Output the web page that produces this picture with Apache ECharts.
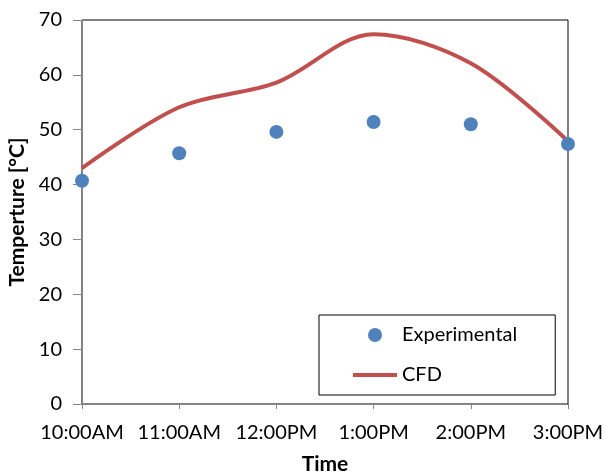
<!DOCTYPE html>
<html>
<head>
<meta charset="utf-8">
<script src="https://cdn.jsdelivr.net/npm/echarts@6/dist/echarts.min.js"></script>
<style>
  html, body { margin: 0; padding: 0; background: #fff; }
  #main { width: 606px; height: 472px; }
</style>
</head>
<body>
<div id="main"></div>
<script>
// 数据
var times = ['10:00AM', '11:00AM', '12:00PM', '1:00PM', '2:00PM', '3:00PM'];
var experimental = [40.7, 45.7, 49.6, 51.4, 51.0, 47.4];
var cfd = [43.0, 54.1, 58.6, 67.4, 62.1, 47.9];

var chart = echarts.init(document.getElementById('main'));
var font = 'Lato';
var option = {
    animation: false,
    backgroundColor: '#fff',
    grid: {
        left: 82,
        right: 38,
        top: 20,
        bottom: 68,
        outerBoundsMode: 'none',
        containLabel: false,
        show: true,
        borderColor: '#000',
        borderWidth: 1
    },
    legend: {
        orient: 'vertical',
        left: 319,
        top: 315,
        padding: [10, 38, 10, 34],
        itemGap: 20,
        itemWidth: 44,
        itemHeight: 14,
        borderColor: '#000',
        borderWidth: 1,
        backgroundColor: '#fff',
        textStyle: { fontFamily: font, fontSize: 20, color: '#000' },
        data: [
            { name: 'Experimental', icon: 'circle' },
            { name: 'CFD', icon: 'path://M0,0 L44,0 L44,4 L0,4 Z' }
        ]
    },
    xAxis: {
        type: 'category',
        data: times,
        boundaryGap: false,
        name: 'Time',
        nameLocation: 'middle',
        nameGap: 50,
        nameTextStyle: { fontFamily: font, fontSize: 21, fontWeight: 'bold', color: '#000' },
        axisLine: { lineStyle: { color: '#868686', width: 1 } },
        axisTick: { length: 5, lineStyle: { color: '#868686' } },
        axisLabel: { fontFamily: font, fontSize: 20, color: '#000', margin: 19, interval: 0, hideOverlap: false },
        splitLine: { show: false }
    },
    yAxis: {
        type: 'value',
        min: 0,
        max: 70,
        interval: 10,
        name: 'Temperture [°C]',
        nameLocation: 'middle',
        nameGap: 52,
        nameTextStyle: { fontFamily: font, fontSize: 21, fontWeight: 'bold', color: '#000' },
        axisLine: { show: true, lineStyle: { color: '#868686', width: 1 } },
        axisTick: { show: true, length: 9, lineStyle: { color: '#868686' } },
        axisLabel: { fontFamily: font, fontSize: 20, color: '#000', margin: 20 },
        splitLine: { show: false }
    },
    series: [
        {
            name: 'CFD',
            type: 'line',
            data: cfd,
            smooth: 0.33,
            showSymbol: false,
            symbol: 'none',
            lineStyle: { color: '#C0504D', width: 4 },
            itemStyle: { color: '#C0504D' },
            z: 2
        },
        {
            name: 'Experimental',
            type: 'scatter',
            data: experimental,
            symbolSize: 14,
            itemStyle: { color: '#4F81BD', opacity: 1 },
            z: 3
        }
    ]
};
chart.setOption(option);
</script>
</body>
</html>
